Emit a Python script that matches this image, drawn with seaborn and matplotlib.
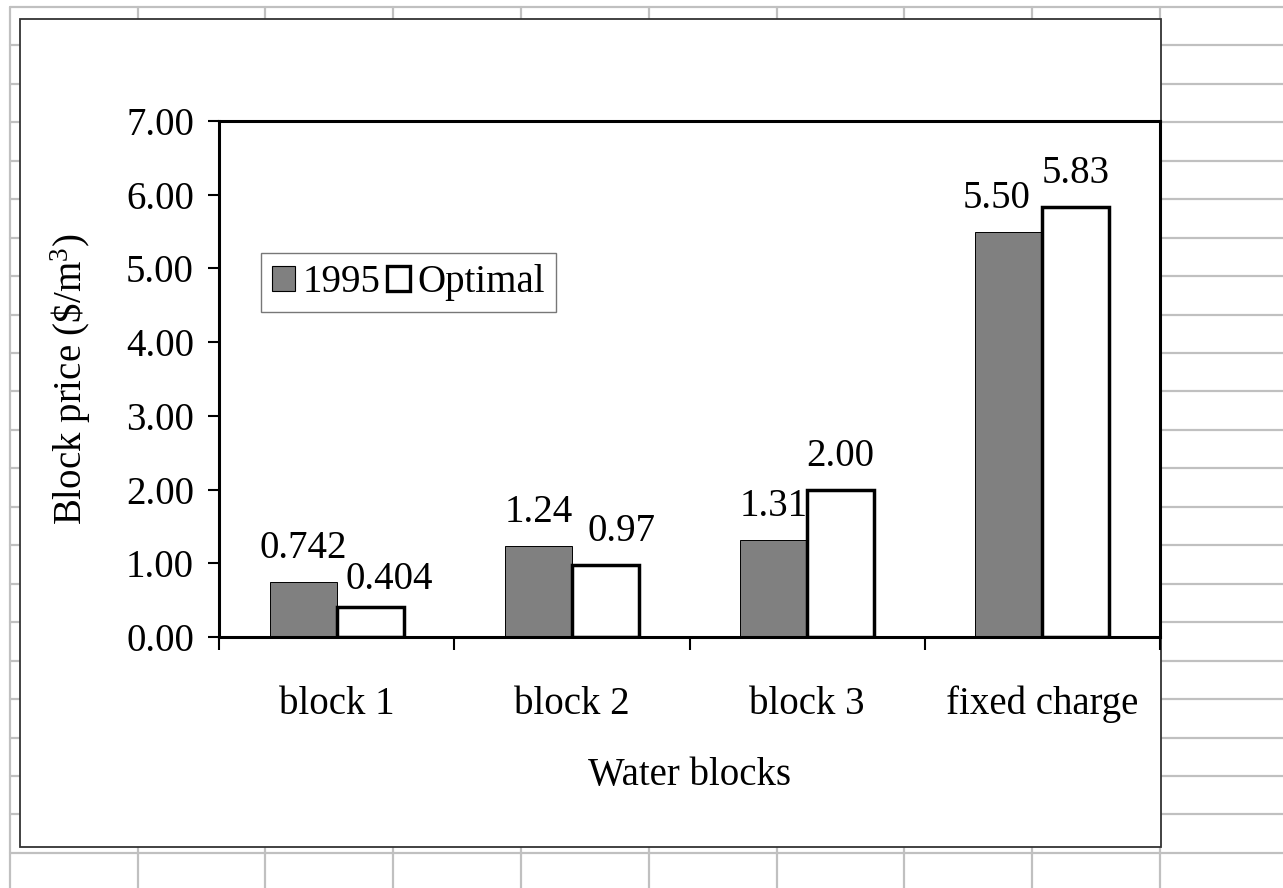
import matplotlib
matplotlib.use("Agg")
import matplotlib.pyplot as plt
from matplotlib.lines import Line2D
from matplotlib.patches import Rectangle, Patch
from matplotlib.ticker import FixedLocator, FormatStrFormatter
import seaborn as sns
import pandas as pd

# ---- data ----
blocks = ["block 1", "block 2", "block 3", "fixed charge"]
series_names = ["1995", "Optimal"]
prices_1995 = [0.742, 1.24, 1.31, 5.50]
prices_optimal = [0.404, 0.97, 2.00, 5.83]
labels_1995 = ["0.742", "1.24", "1.31", "5.50"]
labels_optimal = ["0.404", "0.97", "2.00", "5.83"]
y_ticks = [0, 1, 2, 3, 4, 5, 6, 7]

df = pd.DataFrame({
    "block": blocks * 2,
    "series": [series_names[0]] * 4 + [series_names[1]] * 4,
    "price": prices_1995 + prices_optimal,
})

W, H, DPI = 1283, 888, 100
sns.set_theme(style="white")
plt.rcParams["font.family"] = ["Liberation Serif", "DejaVu Serif"]
plt.rcParams["mathtext.fontset"] = "custom"
plt.rcParams["mathtext.rm"] = "Liberation Serif"
plt.rcParams["mathtext.it"] = "Liberation Serif:italic"
for key in ["text.color", "axes.labelcolor", "xtick.color", "ytick.color"]:
    plt.rcParams[key] = "black"

fig = plt.figure(figsize=(W / DPI, H / DPI), dpi=DPI)
fig.patch.set_facecolor("white")


def fx(px):
    return px / W


def fy(py):
    return 1 - py / H


# spreadsheet cell lines behind the chart object
grid_kw = dict(color="#c0c0c0", lw=1.6, transform=fig.transFigure, zorder=-3)
for gx in [10, 138, 265, 393, 521, 649, 777, 904, 1032, 1160]:
    fig.add_artist(Line2D([fx(gx), fx(gx)], [fy(7), fy(H)], **grid_kw))
for k in range(23):
    gy = 7 + k * 38.45
    fig.add_artist(Line2D([fx(10), fx(W)], [fy(gy), fy(gy)], **grid_kw))

# chart object frame
fig.add_artist(Rectangle((fx(20), fy(847)), fx(1161) - fx(20), fy(19) - fy(847),
                         transform=fig.transFigure, facecolor="white",
                         edgecolor="#333333", lw=1.3, zorder=-1))

# plot area
L, R, T, B = 219, 1160, 121, 637
ax = fig.add_axes([fx(L), fy(B), fx(R) - fx(L), fy(T) - fy(B)])
ax.set_facecolor("white")

sns.barplot(data=df, x="block", y="price", hue="series", order=blocks,
            hue_order=series_names, palette=["#808080", "white"],
            saturation=1, width=0.57, ax=ax, legend=False, errorbar=None)

bars_1995, bars_opt = ax.containers[0], ax.containers[1]
for p in bars_1995:
    p.set_edgecolor("black")
    p.set_linewidth(0.7)
for p in bars_opt:
    p.set_edgecolor("black")
    p.set_linewidth(2.5)
    p.set_joinstyle("miter")

ax.set_xlim(-0.5, 3.5)
ax.set_ylim(0, 7)

FS = 28
# value labels above bars (pixel nudges keep neighbouring labels apart)
nudge_1995 = [(0, 24), (0, 24), (0, 24), (-12, 24)]
nudge_opt = [(19, 18), (16, 24), (0, 24), (0, 24)]
for bars, texts, nudges in [(bars_1995, labels_1995, nudge_1995),
                            (bars_opt, labels_optimal, nudge_opt)]:
    for p, t, (dx, dy) in zip(bars, texts, nudges):
        cx = p.get_x() + p.get_width() / 2
        ax.annotate(t, (cx, p.get_height()), xytext=(dx, dy),
                    textcoords="offset pixels", ha="center", va="baseline",
                    fontsize=FS, color="black")

# axes styling
for s in ax.spines.values():
    s.set_visible(True)
    s.set_color("black")
    s.set_linewidth(2.2)

ax.yaxis.set_major_locator(FixedLocator(y_ticks))
ax.yaxis.set_major_formatter(FormatStrFormatter("%.2f"))
ax.tick_params(axis="y", which="major", direction="out", length=8, width=1.5,
               labelsize=FS, pad=10, left=True, color="black")
ax.set_xticks(range(len(blocks)))
ax.set_xticklabels(blocks)
ax.tick_params(axis="x", which="major", length=0, labelsize=FS, pad=35)
ax.set_xticks([-0.5, 0.5, 1.5, 2.5, 3.5], minor=True)
ax.tick_params(axis="x", which="minor", direction="out", length=9, width=1.5,
               bottom=True, color="black")

ax.set_xlabel("Water blocks", fontsize=FS)
ax.set_ylabel(r"Block price (\$/m$^{3}$)", fontsize=FS)
ax.xaxis.set_label_coords(0.5, -0.232)
ax.yaxis.set_label_coords(-0.134, 0.5)

handles = [Patch(facecolor="#808080", edgecolor="black", lw=0.8),
           Patch(facecolor="white", edgecolor="black", lw=2.4)]
leg = ax.legend(handles, series_names, loc="upper left",
                bbox_to_anchor=((261 - L) / (R - L), (B - 253) / (B - T)),
                borderaxespad=0, ncol=2, fontsize=FS, frameon=True,
                fancybox=False, handlelength=0.6, handleheight=0.6,
                handletextpad=0.18, columnspacing=0.18, borderpad=0.28)
leg.get_frame().set_edgecolor("#555555")
leg.get_frame().set_linewidth(1.0)

fig.savefig("out.png", dpi=DPI, facecolor="white")
